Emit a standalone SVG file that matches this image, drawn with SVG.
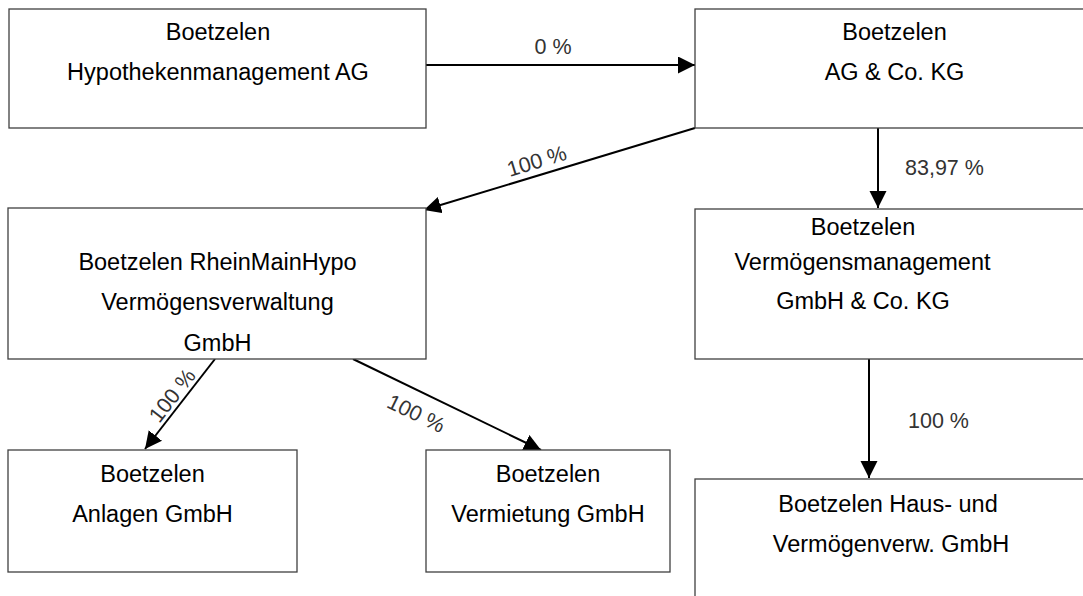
<svg xmlns="http://www.w3.org/2000/svg" width="1083" height="596" viewBox="0 0 1083 596">
<style>
.box{fill:#fff;stroke:#404040;stroke-width:1.3}
.t{font-family:"Liberation Sans",Arial,sans-serif;font-size:23.5px;fill:#000;text-anchor:middle}
.lbl{font-family:"Liberation Sans",Arial,sans-serif;font-size:21.5px;fill:#333}
.c{stroke:#000;stroke-width:2;fill:none;marker-end:url(#ah)}
</style>
<defs>
<marker id="ah" markerUnits="userSpaceOnUse" markerWidth="20" markerHeight="20" refX="17" refY="8.5" orient="auto">
<path d="M0,0 L17,8.5 L0,17 z" fill="#000"/>
</marker>
</defs>
<rect width="1083" height="596" fill="#fff"/>
<g id="connectors">
<line class="c" x1="426" y1="65" x2="695" y2="65"/>
<line class="c" x1="878" y1="128" x2="878" y2="208"/>
<line class="c" x1="695" y1="128" x2="424" y2="210"/>
<line class="c" x1="215" y1="359" x2="145" y2="449"/>
<line class="c" x1="353" y1="359" x2="541" y2="450"/>
<line class="c" x1="869" y1="359" x2="869" y2="478"/>
<text class="lbl" x="553" y="54" text-anchor="middle">0 %</text>
<text class="lbl" x="905" y="175">83,97 %</text>
<text class="lbl" x="908" y="428">100 %</text>
<text class="lbl" text-anchor="middle" transform="translate(539,168) rotate(-17)">100 %</text>
<text class="lbl" text-anchor="middle" transform="translate(178,400) rotate(-52)">100 %</text>
<text class="lbl" text-anchor="middle" transform="translate(413,420) rotate(26)">100 %</text>
</g>
<g id="n1">
<rect class="box" x="9" y="9" width="417" height="119"/>
<text class="t" x="218" y="40">Boetzelen</text>
<text class="t" x="218" y="80">Hypothekenmanagement AG</text>
</g>
<g id="n2">
<rect class="box" x="695" y="9" width="400" height="119"/>
<text class="t" x="894.5" y="40">Boetzelen</text>
<text class="t" x="894.5" y="80">AG &amp; Co. KG</text>
</g>
<g id="n3">
<rect class="box" x="8" y="208" width="418" height="151"/>
<text class="t" x="217.5" y="270">Boetzelen RheinMainHypo</text>
<text class="t" x="217.5" y="310">Vermögensverwaltung</text>
<text class="t" x="217.5" y="351">GmbH</text>
</g>
<g id="n4">
<rect class="box" x="8" y="450" width="289" height="122"/>
<text class="t" x="152.5" y="482">Boetzelen</text>
<text class="t" x="152.5" y="522">Anlagen GmbH</text>
</g>
<g id="n5">
<rect class="box" x="426" y="450" width="244" height="122"/>
<text class="t" x="548" y="482">Boetzelen</text>
<text class="t" x="548" y="522">Vermietung GmbH</text>
</g>
<g id="n6">
<rect class="box" x="695" y="209" width="400" height="150"/>
<text class="t" x="863" y="235">Boetzelen</text>
<text class="t" x="862.5" y="270">Vermögensmanagement</text>
<text class="t" x="863" y="309">GmbH &amp; Co. KG</text>
</g>
<g id="n7">
<rect class="box" x="695" y="479" width="400" height="130"/>
<text class="t" x="888" y="512">Boetzelen Haus- und</text>
<text class="t" x="891" y="552">Vermögenverw. GmbH</text>
</g>
</svg>
